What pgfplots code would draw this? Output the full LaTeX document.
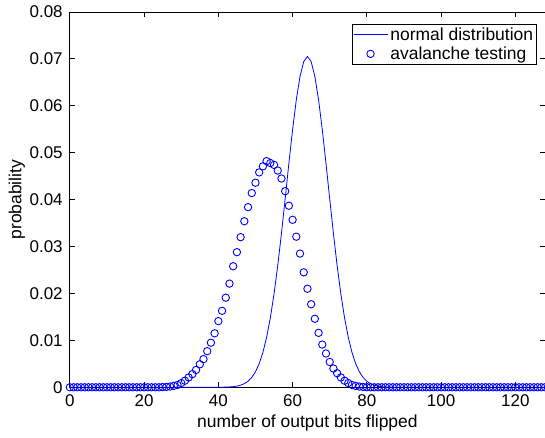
\documentclass[border=0pt]{standalone}
\usepackage{pgfplots}
\pgfplotsset{compat=1.18}
\usepackage{fontspec}
\setmainfont{Liberation Sans}
\definecolor{mblue}{rgb}{0,0,1}
\pgfplotsset{
  lineleg/.style={legend image code/.code={\draw[##1, mblue, line width=0.8pt] (0pt,0pt) -- (34pt,0pt);}},
  markleg/.style={legend image code/.code={\draw[mark repeat=2,mark phase=2,##1] plot coordinates {(0pt,0pt) (17pt,0pt) (34pt,0pt)};}},
}
\begin{document}
\begin{tikzpicture}
\begin{axis}[
  scale only axis, width=476pt, height=376pt,
  xmin=0, xmax=128, ymin=0, ymax=0.08,
  clip=false,
  axis line style={line width=0.9pt},
  tick style={line width=0.8pt, black},
  tick align=inside, major tick length=5pt,
  xtick={0,20,40,60,80,100,120},
  ytick={0,0.01,0.02,0.03,0.04,0.05,0.06,0.07,0.08},
  yticklabels={0,0.01,0.02,0.03,0.04,0.05,0.06,0.07,0.08},
  scaled y ticks=false,
  /pgf/number format/assume math mode=true,
  ticklabel style={font=\fontsize{17}{20}\selectfont, inner sep=0pt},
  xticklabel style={anchor=north, yshift=-7pt},
  yticklabel style={anchor=east, xshift=-7pt},
  xlabel={number of output bits flipped},
  ylabel={probability},
  label style={font=\fontsize{17.5}{21}\selectfont, inner sep=0pt},
  xlabel style={at={(axis description cs:0.5,-0.072)}, anchor=north},
  ylabel style={at={(axis description cs:-0.094,0.5)}, anchor=south},
  legend cell align=left,
  legend style={at={(axis description cs:1,1)}, anchor=north east, xshift=-8pt, yshift=-12pt,
    draw=black, line width=0.8pt, fill=white, font=\fontsize{17.5}{21}\selectfont,
    inner xsep=1pt, inner ysep=0.5pt, row sep=0pt,
    nodes={inner xsep=2.5pt, inner ysep=2.6pt}},
]
\addplot[mblue, line width=0.8pt, mark=none, lineleg]
coordinates {
(0,0) (38,0) (39,0.0000040) (40,0.0000087) (41,0.0000181) (42,0.0000366) (43,0.0000717)
(44,0.00013614) (45,0.00025042) (46,0.00044639) (47,0.00077114) (48,0.0012916)
(49,0.0020959) (50,0.0032983) (51,0.0050292) (52,0.0074328) (53,0.010647)
(54,0.014782) (55,0.019891) (56,0.025943) (57,0.032795) (58,0.040181)
(59,0.047716) (60,0.054921) (61,0.061269) (62,0.066247) (63,0.069427)
(64,0.070520)
(65,0.069427) (66,0.066247) (67,0.061269) (68,0.054921) (69,0.047716)
(70,0.040181) (71,0.032795) (72,0.025943) (73,0.019891) (74,0.014782)
(75,0.010647) (76,0.0074328) (77,0.0050292) (78,0.0032983) (79,0.0020959)
(80,0.0012916) (81,0.00077114) (82,0.00044639) (83,0.00025042) (84,0.00013614)
(85,0.0000717) (86,0.0000366) (87,0.0000181) (88,0.0000087) (89,0.0000040)
(90,0) (128,0)
};
\addlegendentry{normal distribution}
\addplot[mblue, only marks, mark=o, mark size=3.7pt, mark options={line width=0.9pt}, markleg]
coordinates {
(0,0) (1,0) (2,0) (3,0) (4,0) (5,0) (6,0) (7,0) (8,0) (9,0)
(10,0) (11,0) (12,0) (13,0) (14,0) (15,0) (16,0) (17,0) (18,0) (19,0)
(20,0) (21,0) (22,0) (23,0) (24,0) (25,0.00004) (26,0.00008) (27,0.00015) (28,0.0003) (29,0.0005)
(30,0.0009) (31,0.0014) (32,0.0021) (33,0.0028) (34,0.0037) (35,0.0049) (36,0.0060) (37,0.0077) (38,0.0095) (39,0.0115)
(40,0.0141) (41,0.0163) (42,0.0191) (43,0.0221) (44,0.0258) (45,0.0288) (46,0.0320) (47,0.0354) (48,0.0384) (49,0.0414)
(50,0.0436) (51,0.0458) (52,0.0471) (53,0.0482) (54,0.0478) (55,0.0474) (56,0.0462) (57,0.0445) (58,0.0418) (59,0.0387)
(60,0.0357) (61,0.0321) (62,0.0285) (63,0.0245) (64,0.0210) (65,0.0177) (66,0.0146) (67,0.0116) (68,0.0091) (69,0.0072)
(70,0.0054) (71,0.0040) (72,0.0030) (73,0.0021) (74,0.0014) (75,0.0009) (76,0.0005) (77,0.0003) (78,0.00015) (79,0.00007)
(80,0.00003) (81,0) (82,0) (83,0) (84,0) (85,0) (86,0) (87,0) (88,0) (89,0)
(90,0) (91,0) (92,0) (93,0) (94,0) (95,0) (96,0) (97,0) (98,0) (99,0)
(100,0) (101,0) (102,0) (103,0) (104,0) (105,0) (106,0) (107,0) (108,0) (109,0)
(110,0) (111,0) (112,0) (113,0) (114,0) (115,0) (116,0) (117,0) (118,0) (119,0)
(120,0) (121,0) (122,0) (123,0) (124,0) (125,0) (126,0) (127,0) (128,0)
};
\addlegendentry{avalanche testing}
\end{axis}
\pgfresetboundingbox
\path (current axis.south west) ++(-70pt,-50pt) coordinate (bbA);
\path (current axis.north east) ++(-1pt,12pt) coordinate (bbB);
\useasboundingbox (bbA) rectangle (bbB);
\end{tikzpicture}
\end{document}
